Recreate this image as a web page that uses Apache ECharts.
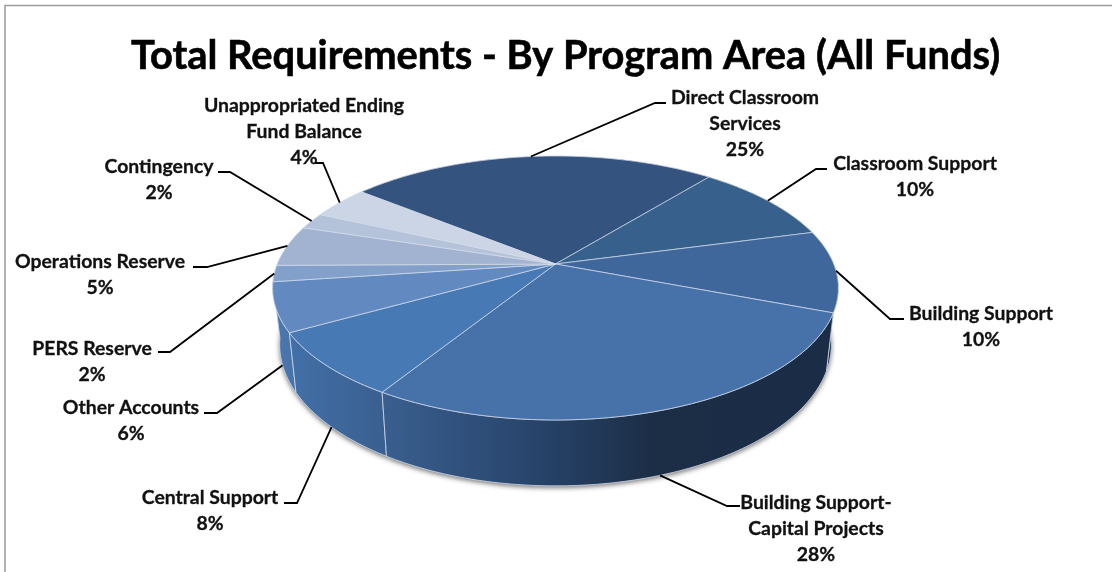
<!DOCTYPE html>
<html>
<head>
<meta charset="utf-8">
<title>Total Requirements - By Program Area (All Funds)</title>
<script src="https://cdn.jsdelivr.net/npm/echarts@6/dist/echarts.min.js"></script>
<style>html,body{margin:0;padding:0;background:#fff}#chart{width:1112px;height:572px}</style>
</head>
<body>
<div id="chart"></div>
<script>
// Program areas, clockwise, with their share of total requirements (percent)
const categories = [
  'Direct Classroom\nServices', 'Classroom Support', 'Building Support',
  'Building Support-\nCapital Projects', 'Central Support', 'Other Accounts',
  'PERS Reserve', 'Operations Reserve', 'Contingency',
  'Unappropriated Ending\nFund Balance'
];
const shares = [25, 10, 10, 28, 8, 6, 2, 5, 2, 4];

// Slice appearance
const topColors = ['#34547f', '#37608c', '#3f679c', '#4671a9', '#4779b5',
                   '#628ac0', '#82a0ca', '#a2b3d2', '#b4c2da', '#cbd5e5'];
const wallColors = [
  ['#34547f', '#34547f'], ['#1c2e46', '#1c2e46'], ['#1c2e46', '#1c2e46'],
  ['#3a5f8f', '#27436a', '#1c2e46', '#1b2d46'], ['#4270a8', '#3a5f8f'], ['#4f79ae', '#4572aa'],
  ['#5a82b5', '#5a82b5'], ['#6a8cbc', '#6a8cbc'], ['#7a99c4', '#7a99c4'],
  ['#8aa5cc', '#8aa5cc']
];
const wallStopOffsets = { 2: [0, 1], 4: [0, 0.35, 0.6, 1] };

// Leader line elbows and label placement: [elbowX, elbowY, endX, endY, textX, textY, anchorOnLowerRim]
const labelLayout = [
  [655, 103, 666, 103, 745, 85, false],
  [816, 169, 827, 169, 915, 151, false],
  [890, 319, 904, 319, 981, 301, false],
  [727, 506, 740, 506, 816, 490, true],
  [297, 503, 284, 503, 210, 485, true],
  [217, 413, 204, 413, 131, 395, true],
  [170, 352, 158, 352, 92, 336, false],
  [207, 267, 193, 267, 100, 249, false],
  [230, 172, 218, 172, 159, 154, false],
  [323, 163, 315, 163, 304, 93, false]
];

// Perspective disc: apex, radii, foreshortening and starting angle
const apexX = 555.5, apexY = 264;
const radiusX = 278.2, radiusY = 127.6, foreshorten = 0.1818;
const startDeg = -51;
const FONT = 'Lato, Carlito, Calibri, sans-serif';

const total = shares.reduce((a, b) => a + b, 0);
const cumulative = shares.reduce((acc, v) => { acc.push(acc[acc.length - 1] + v); return acc; }, [0]);
const toDeg = pct => startDeg + pct / total * 360;

function topPoint(deg) {
  const t = deg * Math.PI / 180, s = Math.sin(t), c = Math.cos(t), d = 1 + foreshorten * c;
  return [apexX + radiusX * s / d, apexY - radiusY * c / d];
}
function lowerPoint(deg) {
  const p = topPoint(deg);
  return [apexX + (p[0] - apexX) * 0.975, p[1] + 55 + 0.07 * (p[1] - apexY)];
}
function arc(fn, a, b) {
  const pts = [], n = Math.max(2, Math.ceil(Math.abs(b - a)));
  for (let i = 0; i <= n; i++) pts.push(fn(a + (b - a) * i / n));
  return pts;
}

function renderShadow(params, api) {
  const a = toDeg(cumulative[params.dataIndex]), b = a + api.value(0) / total * 360;
  return {
    type: 'polygon',
    shape: { points: arc(lowerPoint, a, b).concat([[apexX, apexY + 55]]) },
    style: { fill: '#b0b0b0', shadowBlur: 5, shadowColor: 'rgba(0,0,0,0.55)', shadowOffsetX: 0, shadowOffsetY: 2 }
  };
}
function renderWall(params, api) {
  const i = params.dataIndex;
  const a = toDeg(cumulative[i]), b = a + api.value(0) / total * 360;
  const upper = arc(topPoint, a, b), lower = arc(lowerPoint, a, b).reverse();
  const xs = upper.concat(lower).map(p => p[0]);
  const mid = (a + b) / 2 * Math.PI / 180;
  const colors = wallColors[i], offsets = wallStopOffsets[colors.length];
  return {
    type: 'polygon',
    z2: Math.round(-Math.cos(mid) * 100),
    shape: { points: upper.concat(lower) },
    style: {
      fill: {
        type: 'linear', global: true,
        x: Math.min(...xs), y: 0, x2: Math.max(...xs), y2: 0,
        colorStops: colors.map((color, k) => ({ offset: offsets[k], color }))
      },
      stroke: 'rgba(214,222,236,0.75)', lineWidth: 1
    }
  };
}
function renderTop(params, api) {
  const i = params.dataIndex;
  const a = toDeg(cumulative[i]), b = a + api.value(0) / total * 360;
  return {
    type: 'polygon',
    shape: { points: [[apexX, apexY]].concat(arc(topPoint, a, b)) },
    style: { fill: topColors[i], stroke: 'rgba(214,222,236,0.7)', lineWidth: 1 }
  };
}
function renderLabel(params, api) {
  const i = params.dataIndex, v = api.value(0);
  const mid = toDeg(cumulative[i] + v / 2);
  const [ex, ey, fx, fy, tx, ty, low] = labelLayout[i];
  return {
    type: 'group',
    children: [
      {
        type: 'polyline',
        shape: { points: [(low ? lowerPoint : topPoint)(mid), [ex, ey], [fx, fy]] },
        style: { fill: null, stroke: '#000', lineWidth: 1.8 }
      },
      {
        type: 'text',
        style: {
          x: tx, y: ty, text: categories[i] + '\n' + v + '%',
          align: 'center', verticalAlign: 'top', lineHeight: 26,
          font: 'bold 19.4px ' + FONT, fill: '#111',
          stroke: '#111', lineWidth: 0.3
        }
      }
    ]
  };
}

const seriesData = shares.map(v => [v]);
const chart = echarts.init(document.getElementById('chart'), null, { renderer: 'canvas' });
chart.setOption({
  animation: false,
  backgroundColor: '#fff',
  title: {
    text: 'Total Requirements - By Program Area (All Funds)',
    left: 560.5, top: 31, textAlign: 'center',
    textStyle: { fontFamily: FONT, fontWeight: 'bold', fontSize: 39.8, color: '#000', textBorderColor: '#000', textBorderWidth: 0.6 }
  },
  graphic: [{
    type: 'polyline', silent: true,
    shape: { points: [[5, 572], [5, 5.5], [1112, 5.5]] },
    style: { fill: null, stroke: '#9a9a9a', lineWidth: 1.5 }
  }],
  series: [
    { type: 'custom', coordinateSystem: 'none', silent: true, z: 1, data: seriesData, renderItem: renderShadow },
    { type: 'custom', coordinateSystem: 'none', silent: true, z: 2, data: seriesData, renderItem: renderWall },
    { type: 'custom', coordinateSystem: 'none', silent: true, z: 3, data: seriesData, renderItem: renderTop },
    { type: 'custom', coordinateSystem: 'none', silent: true, z: 4, data: seriesData, renderItem: renderLabel }
  ]
});
</script>
</body>
</html>
